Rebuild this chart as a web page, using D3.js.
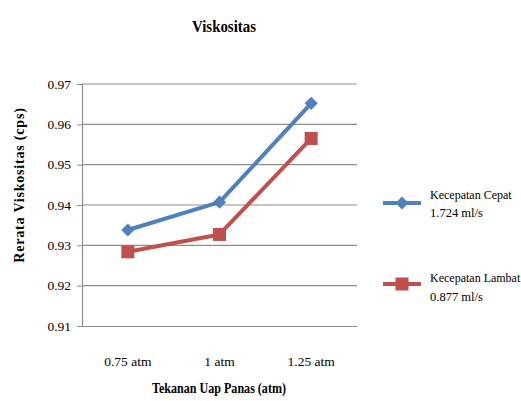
<!DOCTYPE html>
<html><head><meta charset="utf-8">
<script src="https://cdn.jsdelivr.net/npm/d3@7"></script>
<style>body{margin:0;background:#fff}svg{display:block}</style>
</head><body>
<script>
const categories = ["0.75 atm", "1 atm", "1.25 atm"];
const cepat = [0.9338, 0.9407, 0.9652];
const lambat = [0.9284, 0.9327, 0.9565];
const yTicks = [0.91, 0.92, 0.93, 0.94, 0.95, 0.96, 0.97];
const seriesNames = [["Kecepatan Cepat", "1.724 ml/s"], ["Kecepatan Lambat", "0.877 ml/s"]];
const colors = ["#4F81BD", "#C0504D"];

(function () {
const FONT = "'Liberation Serif', 'DejaVu Serif', serif";
const W = 521, H = 401;
const svg = d3.select("body").append("svg").attr("width", W).attr("height", H)
  .style("font-family", FONT);
const mLeft = 82, mRight = 357, mTop = 84, mBottom = 326;

const x = d3.scaleBand().domain(categories).range([mLeft, mRight]);
const y = d3.scaleLinear().domain([0.91, 0.97]).range([mBottom, mTop]);

// gridlines
svg.append("g").selectAll("line").data(yTicks.slice(1)).join("line")
  .attr("x1", mLeft).attr("x2", mRight)
  .attr("y1", d => y(d)).attr("y2", d => y(d))
  .attr("stroke", "#8e8e8e").attr("stroke-width", 1.2);

const yAxis = svg.append("g").attr("transform", `translate(${mLeft},0)`)
  .call(d3.axisLeft(y).tickValues(yTicks).tickFormat(d3.format(".2f")).tickSize(5).tickPadding(6));
yAxis.attr("font-family", null).attr("font-size", null);
yAxis.select(".domain").attr("stroke", "#8e8e8e").attr("stroke-width", 1.2);
yAxis.selectAll(".tick line").attr("stroke", "#8e8e8e");
yAxis.selectAll("text").style("font-family", FONT).style("font-size", "13.5px").attr("fill", "#000");

const xAxis = svg.append("g").attr("transform", `translate(0,${mBottom})`)
  .call(d3.axisBottom(x).tickSize(0).tickPadding(30));
xAxis.attr("font-family", null).attr("font-size", null);
xAxis.select(".domain").attr("stroke", "#8e8e8e").attr("stroke-width", 1.2);
xAxis.selectAll("text").style("font-family", FONT).style("font-size", "13.5px").attr("fill", "#000");

// lines
const line = d3.line().x((d, i) => x(categories[i]) + x.bandwidth() / 2).y(d => y(d));
[cepat, lambat].forEach((vals, s) => {
  svg.append("path").datum(vals).attr("d", line).attr("fill", "none")
    .attr("stroke", colors[s]).attr("stroke-width", 4).attr("stroke-linejoin", "round");
});
// markers
const diamond = d3.symbol().type(d3.symbolDiamond2).size(110);
const square = d3.symbol().type(d3.symbolSquare).size(170);
svg.append("g").selectAll("path").data(cepat).join("path")
  .attr("d", diamond)
  .attr("transform", (d, i) => `translate(${x(categories[i]) + x.bandwidth() / 2},${y(d)})`)
  .attr("fill", colors[0]);
svg.append("g").selectAll("path").data(lambat).join("path")
  .attr("d", square)
  .attr("transform", (d, i) => `translate(${x(categories[i]) + x.bandwidth() / 2},${y(d)})`)
  .attr("fill", colors[1]);

// titles
svg.append("text").attr("x", 224).attr("y", 32).attr("text-anchor", "middle")
  .style("font-size", "16px").style("font-weight", "bold")
  .attr("textLength", 64).attr("lengthAdjust", "spacingAndGlyphs").text("Viskositas");
svg.append("text").attr("transform", "translate(24,185) rotate(-90)").attr("text-anchor", "middle")
  .style("font-size", "14px").style("font-weight", "bold").style("letter-spacing", "0.8px")
  .text("Rerata Viskositas (cps)");
svg.append("text").attr("x", 219).attr("y", 393).attr("text-anchor", "middle")
  .style("font-size", "14.5px").style("font-weight", "bold")
  .attr("textLength", 134).attr("lengthAdjust", "spacingAndGlyphs")
  .text("Tekanan Uap Panas (atm)");

// legend
const legY = [203, 284];
const txtY = [[199, 217], [282, 301]];
seriesNames.forEach((nm, s) => {
  const g = svg.append("g");
  g.append("line").attr("x1", 383).attr("x2", 421).attr("y1", legY[s]).attr("y2", legY[s])
    .attr("stroke", colors[s]).attr("stroke-width", 4);
  g.append("path").attr("d", s === 0 ? diamond : square)
    .attr("transform", `translate(402,${legY[s]})`).attr("fill", colors[s]);
  g.append("text").attr("x", 430).attr("y", txtY[s][0]).style("font-size", "12px").text(nm[0]);
  g.append("text").attr("x", 430).attr("y", txtY[s][1]).style("font-size", "12.5px").text(nm[1]);
});
})();
</script>
</body></html>
